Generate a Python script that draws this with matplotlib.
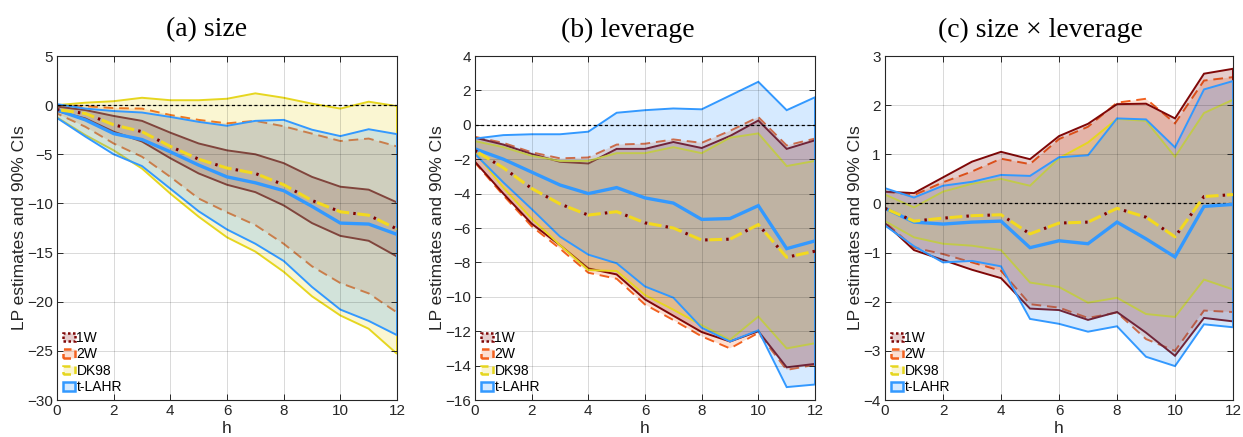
import matplotlib
matplotlib.use("Agg")
import matplotlib.pyplot as plt
from matplotlib.patches import Patch
import numpy as np

plt.rcParams['font.family'] = ['Liberation Sans', 'DejaVu Sans']

h = list(range(13))
methods = ["1W", "2W", "DK98", "t-LAHR"]
titles = ["(a) size", "(b) leverage", "(c) size \u00d7 leverage"]
ylims = [(-30, 5), (-16, 4), (-4, 3)]
ysteps = [5, 2, 1]
ylabel = "LP estimates and 90% CIs"
xlabel = "h"

# ---------- panel (a) size ----------
pe_a = [-0.45, -0.85, -2.0, -2.7, -4.2, -5.5, -6.4, -6.95, -8.1, -9.7, -10.85, -11.2, -12.6]
tl_a = [-0.5, -1.5, -2.9, -3.5, -4.75, -6.1, -7.3, -7.9, -8.7, -10.3, -12.0, -12.1, -13.15]
w1_hi_a = [-0.15, -0.5, -1.1, -1.6, -2.8, -3.9, -4.6, -5.0, -5.9, -7.3, -8.3, -8.6, -9.9]
w1_lo_a = [-0.6, -1.35, -2.7, -3.7, -5.4, -6.95, -8.1, -8.85, -10.2, -12.0, -13.3, -13.8, -15.4]
w2_hi_a = [0.0, -0.1, -0.3, -0.35, -1.0, -1.5, -1.85, -1.6, -2.15, -2.9, -3.65, -3.4, -4.2]
w2_lo_a = [-0.85, -2.2, -3.9, -5.25, -7.3, -9.5, -10.9, -12.2, -14.1, -16.4, -18.1, -19.15, -21.1]
dk_hi_a = [0.0, 0.25, 0.4, 0.75, 0.5, 0.5, 0.65, 1.2, 0.75, 0.15, -0.35, 0.35, -0.1]
dk_lo_a = [-1.25, -3.05, -4.6, -6.45, -9.0, -11.35, -13.45, -14.9, -16.95, -19.45, -21.4, -22.75, -25.3]
tl_hi_a = [0.1, -0.35, -0.6, -0.75, -1.2, -1.7, -2.1, -1.6, -1.5, -2.5, -3.15, -2.45, -2.95]
tl_lo_a = [-1.3, -3.2, -5.0, -6.2, -8.5, -10.8, -12.65, -14.1, -15.85, -18.5, -20.8, -21.95, -23.4]

# ---------- panel (b) leverage ----------
pe_b = [-1.5, -2.5, -3.7, -4.6, -5.25, -5.05, -5.7, -6.0, -6.7, -6.65, -5.8, -7.7, -7.35]
tl_b = [-1.4, -2.0, -2.75, -3.5, -4.0, -3.65, -4.25, -4.55, -5.5, -5.45, -4.7, -7.2, -6.75]
w1_hi_b = [-0.75, -1.15, -1.7, -2.15, -2.25, -1.4, -1.4, -1.0, -1.35, -0.65, 0.25, -1.4, -0.9]
w1_lo_b = [-2.15, -4.0, -5.75, -7.0, -8.35, -8.7, -10.15, -11.1, -12.05, -12.6, -12.0, -14.1, -13.9]
w2_hi_b = [-0.7, -1.05, -1.6, -1.95, -1.9, -1.15, -1.1, -0.85, -1.05, -0.35, 0.45, -1.2, -0.8]
w2_lo_b = [-2.2, -4.1, -5.9, -7.2, -8.6, -8.95, -10.45, -11.35, -12.3, -13.0, -12.1, -14.25, -13.95]
dk_hi_b = [-0.95, -1.3, -1.8, -2.1, -2.1, -1.65, -1.65, -1.3, -1.65, -0.75, -0.5, -2.4, -2.1]
dk_lo_b = [-1.6, -3.65, -5.45, -7.0, -8.45, -8.5, -9.9, -10.75, -11.65, -12.5, -11.15, -13.0, -12.7]
tl_hi_b = [-0.8, -0.6, -0.55, -0.55, -0.4, 0.7, 0.85, 0.95, 0.9, 1.7, 2.5, 0.85, 1.6]
tl_lo_b = [-1.7, -3.35, -4.9, -6.5, -7.55, -8.05, -9.4, -10.05, -11.8, -12.6, -11.95, -15.25, -15.1]

# ---------- panel (c) size x leverage ----------
pe_c = [-0.1, -0.36, -0.3, -0.25, -0.23, -0.62, -0.4, -0.38, -0.1, -0.28, -0.68, 0.14, 0.18]
tl_c = [-0.1, -0.38, -0.42, -0.38, -0.36, -0.9, -0.76, -0.82, -0.38, -0.72, -1.09, -0.06, -0.02]
w1_hi_c = [0.24, 0.21, 0.53, 0.85, 1.05, 0.9, 1.37, 1.62, 2.02, 2.03, 1.73, 2.64, 2.74]
w1_lo_c = [-0.4, -0.95, -1.15, -1.35, -1.52, -2.14, -2.17, -2.37, -2.21, -2.63, -3.1, -2.33, -2.4]
w2_hi_c = [0.24, 0.17, 0.43, 0.65, 0.91, 0.8, 1.31, 1.56, 2.05, 2.13, 1.63, 2.5, 2.57]
w2_lo_c = [-0.38, -0.9, -1.03, -1.2, -1.37, -2.05, -2.12, -2.33, -2.22, -2.76, -3.0, -2.18, -2.21]
dk_hi_c = [0.18, -0.08, 0.24, 0.4, 0.5, 0.36, 0.92, 1.24, 1.72, 1.68, 0.95, 1.84, 2.11]
dk_lo_c = [-0.36, -0.69, -0.82, -0.86, -0.95, -1.61, -1.7, -2.02, -1.92, -2.25, -2.31, -1.55, -1.75]
tl_hi_c = [0.31, 0.12, 0.36, 0.44, 0.58, 0.56, 0.94, 0.98, 1.73, 1.71, 1.14, 2.32, 2.49]
tl_lo_c = [-0.45, -0.87, -1.2, -1.17, -1.28, -2.35, -2.45, -2.61, -2.5, -3.12, -3.31, -2.46, -2.52]

panels = [
    dict(pe=pe_a, tl=tl_a, bands={"1W": (w1_lo_a, w1_hi_a), "2W": (w2_lo_a, w2_hi_a),
                                  "DK98": (dk_lo_a, dk_hi_a), "t-LAHR": (tl_lo_a, tl_hi_a)}),
    dict(pe=pe_b, tl=tl_b, bands={"1W": (w1_lo_b, w1_hi_b), "2W": (w2_lo_b, w2_hi_b),
                                  "DK98": (dk_lo_b, dk_hi_b), "t-LAHR": (tl_lo_b, tl_hi_b)}),
    dict(pe=pe_c, tl=tl_c, bands={"1W": (w1_lo_c, w1_hi_c), "2W": (w2_lo_c, w2_hi_c),
                                  "DK98": (dk_lo_c, dk_hi_c), "t-LAHR": (tl_lo_c, tl_hi_c)}),
]

colors = {"1W": (0.5, 0.03, 0.03), "2W": (0.95, 0.38, 0.12),
          "DK98": (0.9, 0.84, 0.12), "t-LAHR": (0.2, 0.6, 1.0)}
edge_styles = {"1W": "-", "2W": (0, (5, 3)), "DK98": "-", "t-LAHR": "-"}
legend_styles = {"1W": (0, (1, 1)), "2W": (0, (3, 2)), "DK98": (0, (3, 2)), "t-LAHR": "-"}
draw_order = ["2W", "1W", "DK98", "t-LAHR"]

fig = plt.figure(figsize=(12.43, 4.37), dpi=100)
positions = [(57, 397), (475, 815), (885, 1233)]
title_x = [0.441, 0.45, 0.448]
W, H = 1243.0, 437.0
top_px, bot_px = 56, 400

for i, p in enumerate(panels):
    l, r = positions[i]
    ax = fig.add_axes([l / W, 1 - bot_px / H, (r - l) / W, (bot_px - top_px) / H])
    for m in draw_order:
        lo, hi = p["bands"][m]
        xs = list(h) + list(h[::-1]) + [h[0]]
        ys = list(hi) + list(lo[::-1]) + [hi[0]]
        ax.fill(xs, ys, facecolor=colors[m] + (0.2,), edgecolor=colors[m],
                linestyle=edge_styles[m], linewidth=1.4, zorder=2)
    ax.axhline(0, color="k", linestyle=(0, (2.5, 2)), linewidth=0.9, zorder=3)
    ax.plot(h, p["tl"], color=colors["t-LAHR"], linewidth=2.4, zorder=4,
            solid_joinstyle="miter")
    ax.plot(h, p["pe"], color=(0.95, 0.85, 0.12), linewidth=2.2,
            linestyle=(5.55, (4.2, 2.7)), zorder=5)
    ax.plot(h, p["pe"], color=(0.5, 0.0, 0.0), linewidth=2.2,
            linestyle=(0, (0.8, 6.1)), zorder=6)

    ax.set_xlim(0, 12)
    ax.set_ylim(*ylims[i])
    ax.set_xticks(np.arange(0, 13, 2))
    ax.set_yticks(np.arange(ylims[i][0], ylims[i][1] + 0.001, ysteps[i]))
    ax.grid(True, color="k", alpha=0.15, linewidth=0.7)
    ax.set_axisbelow(False)
    ax.tick_params(direction="in", top=True, right=True, length=4, width=0.7,
                   labelsize=11, colors="#262626", pad=3)
    for s in ax.spines.values():
        s.set_color("#262626")
        s.set_linewidth(0.8)
        s.set_zorder(10)
    ax.set_xlabel(xlabel, fontsize=12.5, color="#262626", labelpad=2)
    ax.set_ylabel(ylabel, fontsize=12.5, color="#262626", labelpad=0)
    ax.set_title(titles[i], fontsize=20, family=["Liberation Serif", "DejaVu Serif"],
                 pad=14, x=title_x[i])

    handles = [Patch(facecolor=colors[m] + (0.2,), edgecolor=colors[m],
                     linestyle=legend_styles[m], linewidth=1.8) for m in methods]
    ax.legend(handles, methods, loc="lower left", frameon=False, fontsize=10,
              handlelength=0.9, handleheight=0.6, handletextpad=0.1,
              labelspacing=0.18, borderpad=0.2, borderaxespad=0.2)

fig.savefig("out.png", dpi=100)
